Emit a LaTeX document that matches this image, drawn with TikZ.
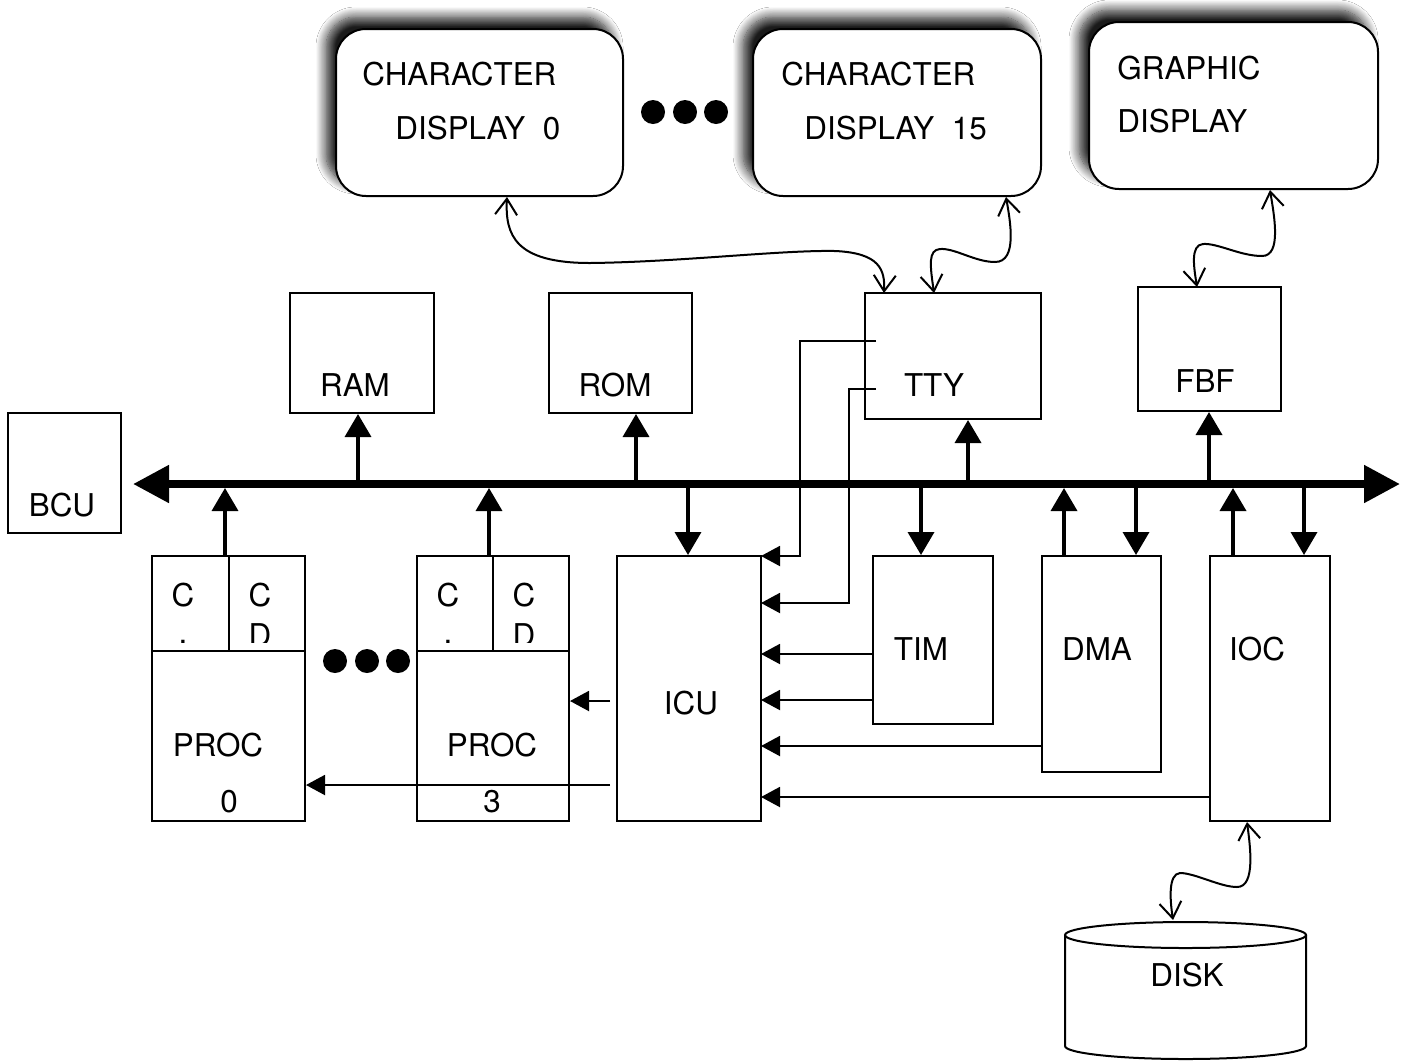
\documentclass[tikz,border=0pt]{standalone}
\usepackage{fontspec}
\setmainfont{TeX Gyre Heros}
\usetikzlibrary{arrows.meta,fit,shadows.blur}
\begin{document}
\begin{tikzpicture}[x=0.5pt,y=-0.5pt,
 box/.style={draw,line width=1pt,inner sep=0pt},
 disp/.style={draw,line width=1pt,inner sep=0pt,rounded corners=15pt,fill=white,
   blur shadow={shadow xshift=-5pt,shadow yshift=6pt,shadow blur radius=5pt,shadow blur steps=12,shadow opacity=90}},
 lbl/.style={font=\fontsize{15.7}{18}\selectfont,inner sep=0pt},
 busline/.style={line width=4pt,{Triangle[length=18pt,width=18pt]}-{Triangle[length=18pt,width=18pt]}},
 tap/.style={line width=1.8pt,-{Triangle[length=11.5pt,width=13pt]}},
 irq/.style={line width=1pt,-{Triangle[length=9.5pt,width=10pt]}},
 wig/.style={line width=1pt,{Straight Barb[length=8pt,width=11pt]}-{Straight Barb[length=8pt,width=11pt]}}
]
\path[use as bounding box,fill=white] (0,0) rectangle (1411,1061);

% displays
\node[disp,fit={(336,29) (623,196)}] (cd0) {};
\node[disp,fit={(753,29) (1041,196)}] (cd15) {};
\node[disp,fit={(1089,22) (1378,189)}] (gd) {};
\node[lbl,anchor=west] (cd0a) at (362,74) {CHARACTER};
\node[lbl,anchor=west] (cd0b) at (395,128) {DISPLAY~~0};
\node[lbl,anchor=west] (cd15a) at (781,74) {CHARACTER};
\node[lbl,anchor=west] (cd15b) at (804,128) {DISPLAY~~15};
\node[lbl,anchor=west] (gda) at (1117,68) {GRAPHIC};
\node[lbl,anchor=west] (gdb) at (1117,121) {DISPLAY};
\fill (653,112) circle (12) (685,112) circle (12) (716,112) circle (12);

% upper boxes
\node[box,fit={(8,413) (121,533)}] (bcu) {};
\node[lbl] (bcut) at (62,505) {BCU};
\node[box,fit={(290,293) (434,413)}] (ram) {};
\node[lbl] (ramt) at (355,385) {RAM};
\node[box,fit={(549,293) (692,413)}] (rom) {};
\node[lbl] (romt) at (615,385) {ROM};
\node[box,fit={(865,293) (1041,419)}] (tty) {};
\node[lbl] (ttyt) at (934,385) {TTY};
\node[box,fit={(1138,287) (1281,411)}] (fbf) {};
\node[lbl] (fbft) at (1205,381) {FBF};

% lower boxes
\node[box,fit={(152,556) (305,821)}] (proc0) {};
\draw[line width=1pt] (152,651) -- (305,651) (229,556) -- (229,651);
\node[box,fit={(417,556) (569,821)}] (proc3) {};
\draw[line width=1pt] (417,651) -- (569,651) (493,556) -- (493,651);
\node[lbl] (p0t) at (218,745) {PROC};
\node[lbl] (p0n) at (229,802) {0};
\node[lbl] (p3t) at (492,745) {PROC};
\node[lbl] (p3n) at (492,802) {3};
\begin{scope}
\clip (152,556) rectangle (569,642);
\node[lbl] (h1) at (183,595) {C};
\node[lbl] (h2) at (260,595) {C};
\node[lbl] (h3) at (260,635) {D};
\node[lbl,anchor=base] (h4) at (183,643) {.};
\node[lbl] (h5) at (448,595) {C};
\node[lbl] (h6) at (524,595) {C};
\node[lbl] (h7) at (524,635) {D};
\node[lbl,anchor=base] (h8) at (448,643) {.};
\end{scope}
\fill (335,661) circle (12) (367,661) circle (12) (398,661) circle (12);

\node[box,fit={(617,556) (761,821)}] (icu) {};
\node[lbl] (icut) at (691,703) {ICU};
\node[box,fit={(873,556) (993,724)}] (tim) {};
\node[lbl] (timt) at (921,649) {TIM};
\node[box,fit={(1042,556) (1161,772)}] (dma) {};
\node[lbl] (dmat) at (1097,649) {DMA};
\node[box,fit={(1210,556) (1330,821)}] (ioc) {};
\node[lbl] (ioct) at (1257,649) {IOC};

% disk
\draw[line width=1pt,fill=white] (1065,935) -- (1065,1046) arc[start angle=180,end angle=0,x radius=120.5,y radius=13] -- (1306,935);
\draw[line width=1pt] (1185.5,935) ellipse [x radius=120.5,y radius=13];
\node[inner sep=0pt,fit={(1065,922) (1306,1059)}] (disk) {};
\node[lbl] (diskt) at (1187,975) {DISK};

% bus taps
\coordinate (bp0) at (225,488);
\coordinate (bp3) at (489,488);
\coordinate (br) at (358,484);
\coordinate (bo) at (636,484);
\coordinate (bi) at (688,484);
\coordinate (bt) at (921,484);
\coordinate (bty) at (968,484);
\coordinate (bd1) at (1064,488);
\coordinate (bd2) at (1136,484);
\coordinate (bf) at (1209,484);
\coordinate (bc1) at (1233,488);
\coordinate (bc2) at (1304,484);
\draw[tap] (bp0 |- proc0.north) -- (bp0);
\draw[tap] (bp3 |- proc3.north) -- (bp3);
\draw[tap] (br) -- (br |- ram.south);
\draw[tap] (bo) -- (bo |- rom.south);
\draw[tap] (bi) -- (bi |- icu.north);
\draw[tap] (bt) -- (bt |- tim.north);
\draw[tap] (bty) -- (bty |- tty.south);
\draw[tap] (bd1 |- dma.north) -- (bd1);
\draw[tap] (bd2) -- (bd2 |- dma.north);
\draw[tap] (bf) -- (bf |- fbf.south);
\draw[tap] (bc1 |- ioc.north) -- (bc1);
\draw[tap] (bc2) -- (bc2 |- ioc.north);

% bus
\coordinate (busL) at (133,484);
\coordinate (busR) at (1400,484);
\draw[busline] (busL) -- (busR);

% interrupt lines
\coordinate (i1) at (761,556);
\coordinate (i2) at (761,603);
\coordinate (i3) at (761,654);
\coordinate (i4) at (761,700);
\coordinate (i5) at (761,746);
\coordinate (i6) at (761,797);
\coordinate (t1) at (876,341);
\coordinate (t2) at (876,389);
\draw[irq] (t1) -- (800,341) -- (800,556) -- (i1);
\draw[irq] (t2) -- (849,389) -- (849,603) -- (i2);
\draw[irq] (tim.west |- i3) -- (i3);
\draw[irq] (tim.west |- i4) -- (i4);
\draw[irq] (dma.west |- i5) -- (i5);
\draw[irq] (ioc.west |- i6) -- (i6);
\coordinate (q1) at (610,701);
\coordinate (q2) at (610,785);
\draw[irq] (q1) -- (q1 -| proc3.east);
\draw[irq] (q2) -- (q2 -| proc0.east);

% wiggly links
\coordinate (w1a) at (507,197);
\coordinate (w1b) at (884,293);
\coordinate (w2a) at (1006,197);
\coordinate (w2b) at (934,293);
\coordinate (w3a) at (1270,190);
\coordinate (w3b) at (1197,287);
\coordinate (w4a) at (1247,822);
\coordinate (w4b) at (1173,920);
\draw[wig] (w1a) .. controls (505,235) and (515,263) .. (590,263) .. controls (680,262) and (780,250) .. (835,251) .. controls (880,253) and (885,270) .. (w1b);
\draw[wig] (w2a) .. controls (1010,220) and (1018,262) .. (995,262) .. controls (975,262) and (955,248) .. (940,249) .. controls (928,250) and (930,265) .. (w2b);
\draw[wig] (w3a) .. controls (1274,215) and (1282,256) .. (1262,256) .. controls (1240,256) and (1218,243) .. (1203,244) .. controls (1190,245) and (1194,268) .. (w3b);
\draw[wig] (w4a) .. controls (1250,845) and (1256,887) .. (1237,887) .. controls (1220,887) and (1195,873) .. (1180,873) .. controls (1168,874) and (1170,900) .. (w4b);
\end{tikzpicture}
\end{document}
